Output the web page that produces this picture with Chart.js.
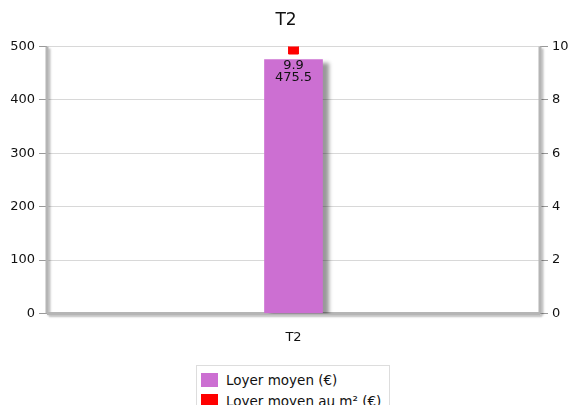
<!DOCTYPE html>
<html>
<head>
<meta charset="utf-8">
<script src="https://cdn.jsdelivr.net/npm/chart.js@4/dist/chart.umd.min.js"></script>
<style>
  body { margin: 0; background: #fff; font-family: "DejaVu Sans", sans-serif; }
  #wrap { position: relative; width: 572px; height: 405px; overflow: hidden; }
  #legend {
    position: absolute; left: 196px; top: 365px; width: 188px;
    border: 1px solid #ddd; background: #fff; padding: 3px 0 4px 4px; font-size: 13.5px; color: #111;
  }
  .item { display: flex; align-items: center; height: 21px; }
  .sw { width: 17px; height: 14px; margin-right: 8px; }
</style>
</head>
<body>
<div id="wrap">
  <canvas id="chart" width="572" height="365"></canvas>
  <div id="legend"></div>
</div>
<script>
const categories = ['T2'];
const loyerMoyen = [475.5];
const loyerM2 = [9.9];
const leftTicks = [0, 100, 200, 300, 400, 500];
const rightTicks = [0, 2, 4, 6, 8, 10];
const seriesNames = ['Loyer moyen (€)', 'Loyer moyen au m² (€)'];
const seriesColors = ['#cc6fd2', '#ff0000'];

const FONT = '"DejaVu Sans", sans-serif';

// shadow on bars
const shadowPlugin = {
  id: 'shadows',
  beforeDatasetDraw(chart, args) {
    if (args.index === 0) {
      const ctx = chart.ctx;
      ctx.save();
      ctx.shadowColor = 'rgba(0,0,0,0.4)';
      ctx.shadowOffsetX = 6;
      ctx.shadowOffsetY = 4;
      ctx.shadowBlur = 4;
    }
  },
  afterDatasetDraw(chart, args) {
    if (args.index === 0) chart.ctx.restore();
  }
};

// thick grey axes with shadow
const axesPlugin = {
  id: 'axesLines',
  beforeDatasetsDraw(chart) {
    const { ctx, chartArea: a } = chart;
    ctx.save();
    ctx.strokeStyle = '#b5b5b5';
    ctx.lineWidth = 3;
    ctx.shadowColor = 'rgba(0,0,0,0.25)';
    ctx.shadowOffsetX = 2;
    ctx.shadowOffsetY = 2;
    ctx.shadowBlur = 2;
    ctx.beginPath();
    ctx.moveTo(a.left, a.top); ctx.lineTo(a.left, a.bottom);
    ctx.moveTo(a.left, a.bottom); ctx.lineTo(a.right, a.bottom);
    ctx.moveTo(a.right, a.top); ctx.lineTo(a.right, a.bottom);
    ctx.stroke();
    ctx.restore();
  }
};

// value labels near the top of the bar
const valuePlugin = {
  id: 'values',
  afterDatasetsDraw(chart) {
    const ctx = chart.ctx;
    const bar = chart.getDatasetMeta(0).data[0];
    ctx.save();
    ctx.fillStyle = '#111';
    ctx.font = '13px ' + FONT;
    ctx.textAlign = 'center';
    ctx.textBaseline = 'middle';
    ctx.fillText(String(loyerM2[0]), bar.x, bar.y + 6);
    ctx.fillText(String(loyerMoyen[0]), bar.x, bar.y + 18);
    ctx.restore();
  }
};

new Chart(document.getElementById('chart'), {
  data: {
    labels: categories,
    datasets: [
      {
        type: 'bar', label: seriesNames[0], data: loyerMoyen, yAxisID: 'y',
        backgroundColor: seriesColors[0], barThickness: 58, order: 2
      },
      {
        type: 'line', label: seriesNames[1], data: loyerM2, yAxisID: 'y1',
        backgroundColor: seriesColors[1], borderColor: seriesColors[1],
        pointStyle: 'rect', pointRadius: 7, showLine: false, order: 1
      }
    ]
  },
  options: {
    responsive: false,
    animation: false,
    layout: { padding: { top: 0, bottom: 4 } },
    plugins: {
      legend: { display: false },
      tooltip: { enabled: false },
      title: {
        display: true, text: 'T2', color: '#111',
        font: { family: FONT, size: 17, weight: 'normal' },
        padding: { top: 10, bottom: 16 }
      }
    },
    scales: {
      x: {
        grid: { display: false, drawTicks: false },
        border: { display: false },
        ticks: { color: '#111', font: { family: FONT, size: 13 }, padding: 16 }
      },
      y: {
        position: 'left', min: 0, max: 500,
        afterBuildTicks: s => { s.ticks = leftTicks.map(v => ({ value: v })); },
        afterFit: s => { s.width = 47; },
        grid: { color: '#d8d8d8', tickColor: '#999', tickLength: 8, lineWidth: 1 },
        border: { display: false },
        ticks: { color: '#111', font: { family: FONT, size: 13 }, padding: 4 }
      },
      y1: {
        position: 'right', min: 0, max: 10,
        afterBuildTicks: s => { s.ticks = rightTicks.map(v => ({ value: v })); },
        afterFit: s => { s.width = 32; },
        grid: { drawOnChartArea: false, tickColor: '#999', tickLength: 8 },
        border: { display: false },
        ticks: { color: '#111', font: { family: FONT, size: 13 }, padding: 4 }
      }
    }
  },
  plugins: [axesPlugin, shadowPlugin, valuePlugin]
});

// legend
const legend = document.getElementById('legend');
seriesNames.forEach((name, i) => {
  const row = document.createElement('div');
  row.className = 'item';
  row.innerHTML = `<span class="sw" style="background:${seriesColors[i]}"></span>${name}`;
  legend.appendChild(row);
});
</script>
</body>
</html>
